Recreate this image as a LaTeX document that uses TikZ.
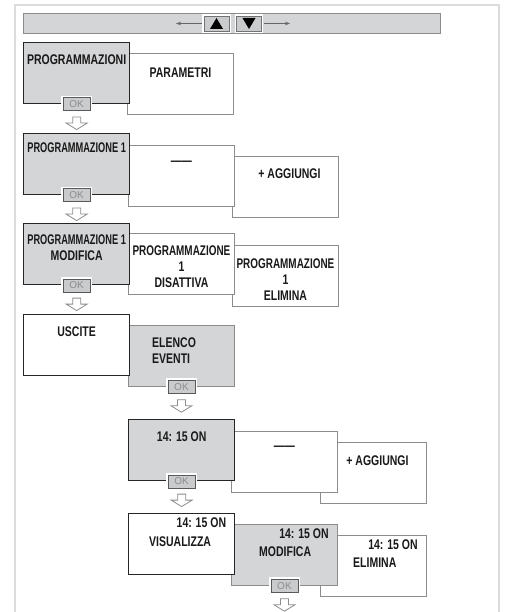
\documentclass[tikz,border=0pt]{standalone}
\usepackage{fontspec}
\setmainfont{Liberation Sans}[FakeStretch=0.75]
\newfontfamily\midfont{Liberation Sans}[FakeStretch=0.71]
\newfontfamily\tightfont{Liberation Sans}[FakeStretch=0.66]
\newfontfamily\okfont{Liberation Sans}
\usetikzlibrary{positioning, arrows.meta}
\definecolor{panelgray}{HTML}{D4D5D7}
\definecolor{edgegray}{HTML}{8C8C8C}
\definecolor{framegray}{HTML}{DCDCDC}
\definecolor{okgray}{HTML}{CACBCD}

\begin{document}
\begin{tikzpicture}[x=1pt,y=-1pt,
  box/.style={anchor=north west, inner sep=0, minimum width=106, minimum height=61},
  selbox/.style={box, draw=black!85, line width=1.3, fill=panelgray},
  curbox/.style={box, draw=black!85, line width=1.3, fill=white},
  pickbox/.style={box, draw=edgegray, line width=0.9, fill=panelgray},
  optbox/.style={box, draw=edgegray, line width=0.9, fill=white},
  txt/.style={inner sep=0, font=\fontsize{14}{16}\selectfont\bfseries, text=black!90, align=center},
  okbtn/.style={draw=black!65, line width=0.6, fill=okgray, minimum width=27, minimum height=13,
    inner sep=0, font=\okfont\fontsize{10}{10}\selectfont, text=black!45,
    preaction={draw=white, line width=4}},
  navbtn/.style={draw=black!55, line width=0.6, fill=okgray, minimum width=25, minimum height=15,
    inner sep=0, preaction={draw=white, line width=3.5}},
  navarrow/.style={draw=black!60, line width=0.6, -{Stealth[length=5pt,width=3.5pt]}},
  hollow/.style={draw=edgegray, line width=0.8, fill=white}]
\useasboundingbox (0,0) rectangle (505,612);
% outer frame
\draw[framegray, line width=1.5] (15,612) -- (15,5) -- (499,5) -- (499,612);
% navigation bar
\node[anchor=north west, minimum width=417, minimum height=20, inner sep=0,
  draw=edgegray, line width=0.8, fill=panelgray] (bar) at (23,13) {};
\node[navbtn] (up) at (216.5,23.5) {};
\node[navbtn] (down) at (249,23.5) {};
\fill ([shift={(-6.5,5.5)}]up.center) -- ++(13,0) -- ++(-6.5,-11) -- cycle;
\fill ([shift={(-6.5,-5.5)}]down.center) -- ++(13,0) -- ++(-6.5,11) -- cycle;
\coordinate (leftend) at (176,23.5);
\coordinate (rightend) at (290,23.5);
\draw[navarrow] ([xshift=-2pt]up.west) -- (leftend);
\draw[navarrow] ([xshift=2pt]down.east) -- (rightend);

% row 1
\node[optbox] (parametri) at (127,53) {};
\node[txt] (parametri-t) at ([shift={(0,20)}]parametri.north) {PARAMETRI};
\node[selbox] (prog) at (23,42) {};
\node[txt] (prog-t) at ([shift={(0,18)}]prog.north) {PROGRAMMAZIONI};
\node[okbtn] (ok1) at (prog.south) {OK};

% row 2
\node[optbox] (aggiungi1) at (232,156) {};
\node[txt] (aggiungi1-t) at ([shift={(4,18)}]aggiungi1.north) {+ AGGIUNGI};
\node[optbox] (vuoto1) at (128,145) {};
\node[txt] (vuoto1-t) at ([shift={(0,18)}]vuoto1.north) {——};
\node[selbox] (prog1) at (23,133) {};
\node[txt] (prog1-t) at ([shift={(0,14.5)}]prog1.north) {\tightfont PROGRAMMAZIONE 1};
\node[okbtn] (ok2) at (prog1.south) {OK};

% row 3
\node[optbox] (elimina1) at (232,245) {};
\node[txt] (elimina1-t) at ([shift={(0,34.5)}]elimina1.north) {{\midfont PROGRAMMAZIONE}\\1\\ELIMINA};
\node[optbox] (disattiva) at (128,233) {};
\node[txt] (disattiva-t) at ([shift={(0,34)}]disattiva.north) {{\midfont PROGRAMMAZIONE}\\1\\DISATTIVA};
\node[selbox] (modifica1) at (23,223) {};
\node[txt] (modifica1-t) at ([shift={(0,25)}]modifica1.north) {{\tightfont PROGRAMMAZIONE 1}\\MODIFICA};
\node[okbtn] (ok3) at (modifica1.south) {OK};

% row 4
\node[pickbox] (eventi) at (128,325) {};
\node[txt, align=left, anchor=west] (eventi-t) at ([shift={(24,25.5)}]eventi.north west) {ELENCO\\EVENTI};
\node[curbox] (uscite) at (23,314) {};
\node[txt] (uscite-t) at ([shift={(0,18)}]uscite.north) {USCITE};
\node[okbtn] (ok4) at (eventi.south) {OK};

% row 5
\node[optbox] (aggiungi2) at (320,442) {};
\node[txt] (aggiungi2-t) at ([shift={(4,19)}]aggiungi2.north) {+ AGGIUNGI};
\node[optbox] (vuoto2) at (231,431) {};
\node[txt] (vuoto2-t) at ([shift={(0,17)}]vuoto2.north) {——};
\node[selbox] (evento) at (128,419) {};
\node[txt] (evento-t) at ([shift={(0,18)}]evento.north) {14: 15 ON};
\node[okbtn] (ok5) at (evento.south) {OK};

% row 6
\node[optbox] (elimina2) at (320,535) {};
\node[txt, anchor=east] (elimina2-a) at ([shift={(-9,10)}]elimina2.north east) {14: 15 ON};
\node[txt, anchor=west] (elimina2-b) at ([shift={(33,28)}]elimina2.north west) {ELIMINA};
\node[pickbox] (modifica2) at (231,524) {};
\node[txt, anchor=east] (modifica2-a) at ([shift={(-9,10)}]modifica2.north east) {14: 15 ON};
\node[txt, anchor=west] (modifica2-b) at ([shift={(28,28)}]modifica2.north west) {MODIFICA};
\node[curbox] (visualizza) at (128,513) {};
\node[txt, anchor=east] (visualizza-a) at ([shift={(-9,10)}]visualizza.north east) {14: 15 ON};
\node[txt, anchor=west] (visualizza-b) at ([shift={(21,29)}]visualizza.north west) {VISUALIZZA};
\node[okbtn] (ok6) at (modifica2.south) {OK};

% hollow arrows under the OK keys
\foreach \k in {ok1,ok2,ok3,ok4,ok5,ok6}{
  \draw[hollow] ([yshift=-6pt]\k.south) ++(-4,0) -- ++(8,0) -- ++(0,6) -- ++(6.5,0)
    -- ++(-10.5,6.5) -- ++(-10.5,-6.5) -- ++(6.5,0) -- cycle;
}
\end{tikzpicture}
\end{document}
